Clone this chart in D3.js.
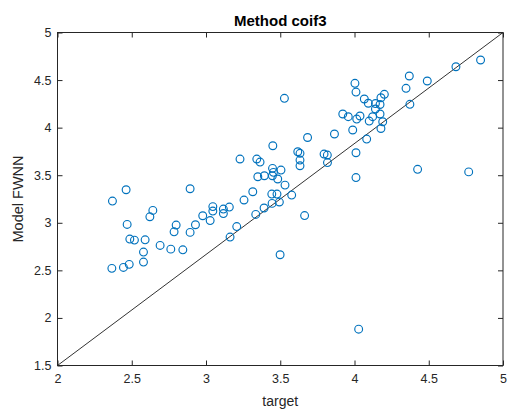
<!DOCTYPE html>
<html><head><meta charset="utf-8">
<script src="https://cdn.jsdelivr.net/npm/d3@7"></script>
<style>body{margin:0;background:#fff}svg{display:block}</style>
</head><body><svg id="c" width="509" height="414"></svg>
<script>
const title = "Method coif3";
const xLabel = "target";
const yLabel = "Model FWNN";
const xTicks = [2, 2.5, 3, 3.5, 4, 4.5, 5];
const yTicks = [1.5, 2, 2.5, 3, 3.5, 4, 4.5, 5];
const targetVals = [2.370,2.462,2.893,2.642,2.622,2.469,2.487,2.518,2.590,2.579,2.691,2.763,2.844,2.799,2.785,2.893,2.929,2.978,3.028,3.046,3.046,3.117,3.117,3.157,3.207,3.162,3.256,3.315,3.335,3.391,3.443,3.478,3.494,3.445,3.499,3.229,3.342,3.364,3.349,3.393,3.450,3.448,3.454,3.447,3.505,3.483,3.532,3.577,3.664,3.618,3.633,3.633,3.633,3.684,3.528,3.795,3.817,3.818,3.865,3.921,3.958,3.988,4.010,4.010,4.003,4.010,4.066,4.093,4.037,4.015,4.082,4.178,4.201,4.141,4.172,4.141,4.172,4.122,4.099,4.190,4.178,4.369,4.347,4.490,4.373,4.683,4.849,4.425,4.769,4.028,2.366,2.444,2.483,2.579];
const modelVals = [3.228,3.347,3.358,3.130,3.063,2.983,2.829,2.818,2.821,2.692,2.762,2.723,2.716,2.976,2.905,2.899,2.979,3.074,3.023,3.170,3.123,3.144,3.097,3.165,2.960,2.850,3.239,3.326,3.088,3.155,3.302,3.302,3.218,3.204,2.664,3.670,3.670,3.638,3.484,3.494,3.810,3.572,3.530,3.494,3.554,3.460,3.396,3.291,3.076,3.747,3.730,3.659,3.599,3.896,4.308,3.722,3.712,3.633,3.933,4.143,4.115,3.975,3.736,3.475,4.466,4.374,4.301,4.256,4.122,4.090,3.880,4.314,4.350,4.253,4.243,4.196,4.143,4.115,4.069,4.062,3.991,4.543,4.413,4.490,4.245,4.640,4.711,3.562,3.535,1.882,2.521,2.531,2.563,2.587];

const svg = d3.select("#c");
const L = 57.5, R = 503, T = 32.5, B = 365.5;
const x = d3.scaleLinear().domain([2, 5]).range([L, R]);
const y = d3.scaleLinear().domain([1.5, 5]).range([B, T]);
const font = "Liberation Sans, Arial, sans-serif";
const tc = "#262626";

// diagonal reference line (corner to corner)
svg.append("line")
  .attr("x1", x(2)).attr("y1", y(1.5)).attr("x2", x(5)).attr("y2", y(5))
  .attr("stroke", "#333").attr("stroke-width", 1);

// points
svg.append("g").selectAll("circle").data(targetVals.map((t, i) => [t, modelVals[i]]))
  .join("circle")
  .attr("cx", d => x(d[0])).attr("cy", d => y(d[1])).attr("r", 3.9)
  .attr("fill", "none").attr("stroke", "#0072BD").attr("stroke-width", 1.15);

// axes (MATLAB-like box, inward ticks)
const tl = 5;
svg.append("rect").attr("x", L).attr("y", T).attr("width", R - L).attr("height", B - T)
  .attr("fill", "none").attr("stroke", "#262626").attr("stroke-width", 1);
const gb = svg.append("g").attr("transform", `translate(0,${B})`)
  .call(d3.axisBottom(x).tickValues(xTicks).tickSize(-tl).tickPadding(9).tickFormat(d3.format("")));
const gt = svg.append("g").attr("transform", `translate(0,${T})`)
  .call(d3.axisTop(x).tickValues(xTicks).tickSize(-tl).tickFormat(""));
const gl = svg.append("g").attr("transform", `translate(${L},0)`)
  .call(d3.axisLeft(y).tickValues(yTicks).tickSize(-tl).tickPadding(6).tickFormat(d3.format("")));
const gr = svg.append("g").attr("transform", `translate(${R},0)`)
  .call(d3.axisRight(y).tickValues(yTicks).tickSize(-tl).tickFormat(""));
[gb, gt, gl, gr].forEach(g => {
  g.select(".domain").remove();
  g.selectAll(".tick line").attr("stroke", "#262626");
  g.selectAll("text").attr("fill", tc).style("font-family", font).style("font-size", "12.5px");
});

svg.append("text").attr("x", (L + R) / 2).attr("y", 26).attr("text-anchor", "middle")
  .style("font-family", font).style("font-size", "15px").style("font-weight", "bold")
  .attr("fill", "#000").text(title);
svg.append("text").attr("x", (L + R) / 2).attr("y", 406).attr("text-anchor", "middle")
  .style("font-family", font).style("font-size", "14px").attr("fill", tc).text(xLabel);
svg.append("text").attr("transform", `translate(23,${(T + B) / 2}) rotate(-90)`).attr("text-anchor", "middle")
  .style("font-family", font).style("font-size", "14.5px").attr("fill", tc).text(yLabel);
</script></body></html>
